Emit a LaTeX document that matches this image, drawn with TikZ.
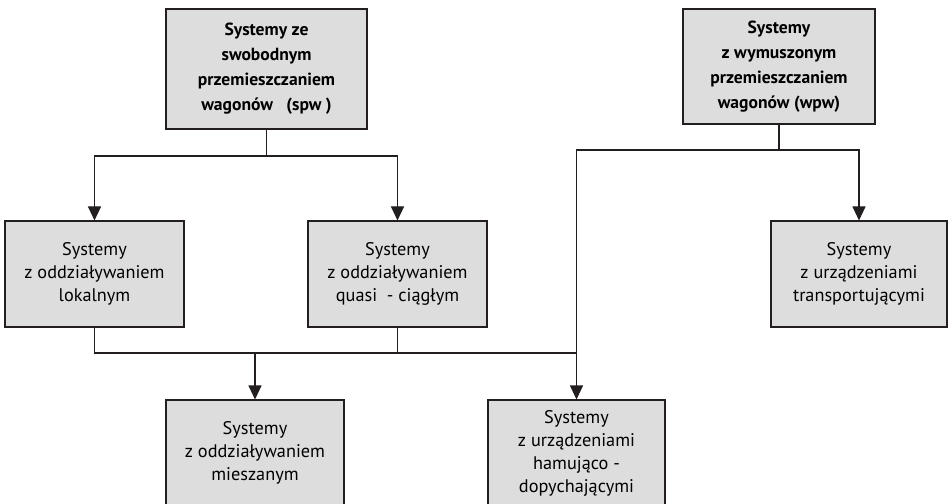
\documentclass[tikz,border=0pt]{standalone}
\usepackage{fontspec}
\setmainfont{PT Sans}
\usetikzlibrary{arrows.meta}

\definecolor{boxgray}{RGB}{221,221,222}
\definecolor{inkblack}{RGB}{35,31,32}

\begin{document}
\begin{tikzpicture}[
    sysbox/.style = {draw = inkblack, fill = boxgray, line width = 0.6pt, align = center, inner sep = 0pt,
        minimum height = 2.12cm, font = \fontsize{10.4}{13.1}\selectfont},
    topbox/.style = {sysbox, font = \fontsize{10}{14.2}\selectfont\bfseries},
    link/.style = {draw = inkblack, line width = 0.6pt},
    arr/.style = {link, -{Triangle[width = 0.26cm, length = 0.28cm]}}
]
    \useasboundingbox (0, 0) rectangle (18.96, -10.08);

    \node[topbox, minimum width = 4.02cm, minimum height = 2.4cm] (spw) at (5.33, -1.38)
        {Systemy ze\\swobodnym\\przemieszczaniem\\wagonów~~~(spw~)};
    \node[topbox, minimum width = 3.84cm, minimum height = 2.3cm] (wpw) at (15.58, -1.33)
        {Systemy\\z wymuszonym\\przemieszczaniem\\wagonów (wpw)};

    \node[sysbox, minimum width = 3.58cm] (lok) at (1.89, -5.48) {Systemy\\z oddziaływaniem\\lokalnym};
    \node[sysbox, minimum width = 3.58cm] (qua) at (7.95, -5.48) {Systemy\\z oddziaływaniem\\quasi~~- ciągłym};
    \node[sysbox, minimum width = 3.52cm] (tra) at (17.18, -5.48) {Systemy\\z urządzeniami\\transportującymi};

    \node[sysbox, minimum width = 3.56cm] (mie) at (5.10, -9.06) {Systemy\\z oddziaływaniem\\mieszanym};
    \node[sysbox, minimum width = 3.54cm] (ham) at (11.53, -9.06) {Systemy\\z urządzeniami\\hamująco -\\dopychającymi};

    \coordinate (spwbar) at (5.33, -3.12);
    \coordinate (wpwbar) at (15.58, -3.0);
    \coordinate (mixbar) at (11.53, -7.06);

    \draw[arr] (spw.south) -- (spwbar) -| (lok.north);
    \draw[arr] (spwbar) -| (qua.north);

    \draw[arr] (wpw.south) -- (wpwbar) -| (tra.north);
    \draw[arr] (wpwbar) -| (ham.north);

    \draw[link] (lok.south) |- (mixbar);
    \draw[link] (qua.south) -- (qua.south |- mixbar);
    \draw[arr] (mie.north |- mixbar) -- (mie.north);
\end{tikzpicture}
\end{document}
